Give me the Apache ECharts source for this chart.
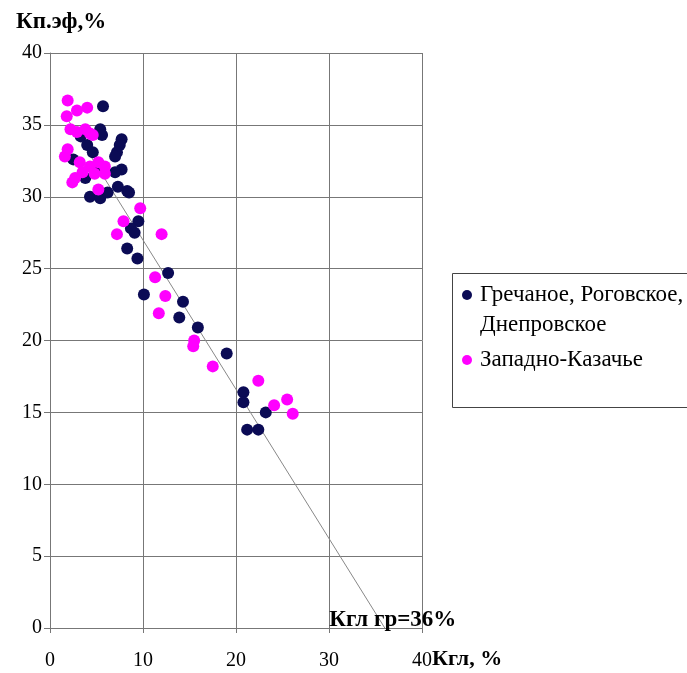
<!DOCTYPE html>
<html>
<head>
<meta charset="utf-8">
<script src="https://cdn.jsdelivr.net/npm/echarts@6/dist/echarts.min.js"></script>
<style>
  html, body { margin: 0; padding: 0; background: #fff; }
  #main { width: 687px; height: 673px; }
</style>
</head>
<body>
<div id="main"></div>
<script>
// Гречаное, Роговское, Днепровское
var grechX = [5.7, 5.4, 5.6, 3.3, 7.7, 7.5, 7.2, 7.0, 4.0, 4.6, 2.5, 7.7, 7.0, 3.8, 5.3, 7.3, 8.3, 8.5, 4.3, 5.4, 6.2,
              9.5, 8.7, 9.1, 8.3, 9.4, 12.7, 10.1, 14.3, 13.9, 15.9, 19.0, 20.8, 20.8, 23.2, 21.2, 22.4];
var grechY = [36.3, 34.7, 34.3, 34.2, 34.0, 33.6, 33.1, 32.8, 33.6, 33.1, 32.6, 31.9, 31.7, 31.3, 31.9, 30.7, 30.4, 30.3, 30.0, 29.9, 30.3,
              28.3, 27.8, 27.5, 26.4, 25.7, 24.7, 23.2, 22.7, 21.6, 20.9, 19.1, 16.4, 15.7, 15.0, 13.8, 13.8];
// Западно-Казачье
var zapX = [1.9, 1.8, 2.9, 4.0, 2.2, 2.9, 3.8, 4.3, 4.6, 1.9, 1.6, 3.2, 4.3, 5.2, 5.9, 3.5, 4.8, 5.9, 2.7, 2.4, 5.2,
            9.7, 7.9, 7.2, 12.0, 11.3, 12.4, 11.7, 15.5, 15.4, 17.5, 22.4, 24.1, 25.5, 26.1];
var zapY = [36.7, 35.6, 36.0, 36.2, 34.7, 34.5, 34.7, 34.4, 34.3, 33.3, 32.8, 32.4, 32.1, 32.4, 32.1, 31.7, 31.6, 31.6, 31.3, 31.0, 30.5,
            29.2, 28.3, 27.4, 27.4, 24.4, 23.1, 21.9, 20.0, 19.6, 18.2, 17.2, 15.5, 15.9, 14.9];
// линия тренда
var lineX = [1.8, 36];
var lineY = [35.5, 0];

var seriesNames = ['Гречаное, Роговское, Днепровское', 'Западно-Казачье'];

function pairs(xs, ys) {
  return xs.map(function (x, i) { return [x, ys[i]]; });
}

var serif = 'Liberation Serif';

var lineData = pairs(lineX, lineY);
lineData[1] = {
  value: lineData[1],
  label: {
    show: true, position: 'inside', offset: [8, -8],
    formatter: 'Кгл гр=36%',
    fontFamily: serif, fontWeight: 'bold', fontSize: 23, color: '#000'
  }
};

var chart = echarts.init(document.getElementById('main'));

chart.setOption({
  animation: false,
  title: {
    text: 'Кп.эф,%', left: 11, top: 6,
    textStyle: { fontFamily: serif, fontWeight: 'bold', fontSize: 23, color: '#000' }
  },
  grid: { left: 50, right: 265, top: 53, bottom: 45 },
  xAxis: {
    type: 'value', min: 0, max: 40, interval: 10,
    axisLine: { show: true, lineStyle: { color: '#777', width: 1 } },
    axisTick: { show: true, inside: false, length: 5, lineStyle: { color: '#777' } },
    axisLabel: { margin: 23, fontFamily: serif, fontSize: 20, color: '#000' },
    splitLine: { show: true, lineStyle: { color: '#777', width: 1 } }
  },
  yAxis: {
    type: 'value', min: 0, max: 40, interval: 5,
    axisLine: { show: true, lineStyle: { color: '#777', width: 1 } },
    axisTick: { show: true, inside: false, length: 6, lineStyle: { color: '#777' } },
    axisLabel: { margin: 8, fontFamily: serif, fontSize: 20, color: '#000' },
    splitLine: { show: true, lineStyle: { color: '#777', width: 1 } }
  },
  legend: {
    orient: 'vertical', left: 462, top: 250, padding: 0, itemGap: 5,
    icon: 'circle', itemWidth: 10, itemHeight: 10,
    formatter: function (name) {
      return name === seriesNames[0] ? ' \nГречаное, Роговское,\nДнепровское' : name;
    },
    textStyle: { fontFamily: serif, fontSize: 23, color: '#000', lineHeight: 30, padding: [0, 0, 0, 3] },
    data: [seriesNames[0], seriesNames[1]]
  },
  graphic: [
    {
      type: 'rect', left: 452, top: 273, z: -1,
      shape: { width: 260, height: 134 },
      style: { fill: '#fff', stroke: '#444', lineWidth: 1 }
    },
    {
      type: 'text', left: 432, top: 648,
      style: { text: 'Кгл, %', fill: '#000', font: 'bold 22px "Liberation Serif"' }
    }
  ],
  series: [
    {
      type: 'line', data: lineData, symbol: 'circle', symbolSize: 0.1, showSymbol: true,
      z: 1, silent: true,
      itemStyle: { color: '#888' },
      lineStyle: { color: '#888', width: 1 }
    },
    {
      name: seriesNames[0], type: 'scatter', data: pairs(grechX, grechY), z: 2,
      symbolSize: 12, itemStyle: { color: '#0b0b55', opacity: 1 }
    },
    {
      name: seriesNames[1], type: 'scatter', data: pairs(zapX, zapY), z: 3,
      symbolSize: 12, itemStyle: { color: '#ff00ff', opacity: 1 }
    }
  ]
});
</script>
</body>
</html>
